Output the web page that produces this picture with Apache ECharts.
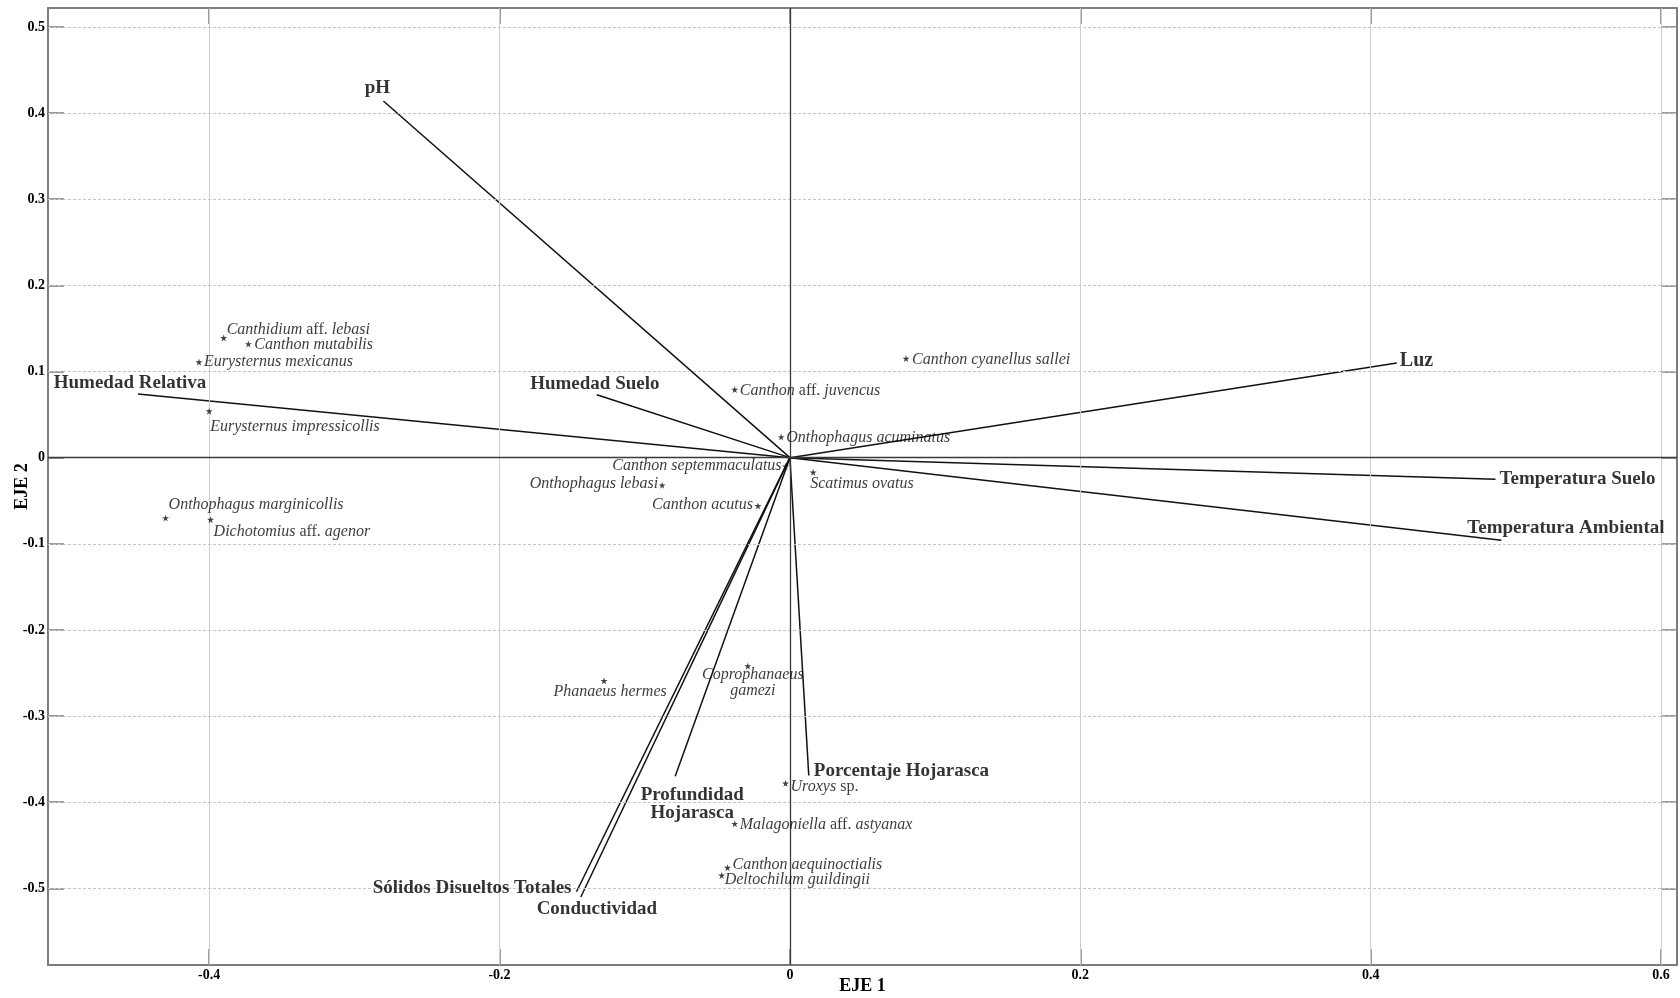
<!DOCTYPE html>
<html>
<head>
<meta charset="utf-8">
<script src="https://cdn.jsdelivr.net/npm/echarts@6/dist/echarts.min.js"></script>
<style>
html,body{margin:0;padding:0;background:#ffffff;}
#chart{width:1680px;height:998px;}
</style>
</head>
<body>
<div id="chart"></div>
<script>
// ---------------- data ----------------
const xTicks = [-0.4, -0.2, 0, 0.2, 0.4, 0.6];
const xTickLabels = ['-0.4', '-0.2', '0', '0.2', '0.4', '0.6'];
const yTicks = [-0.5, -0.4, -0.3, -0.2, -0.1, 0, 0.1, 0.2, 0.3, 0.4, 0.5];
const yTickLabels = ['-0.5', '-0.4', '-0.3', '-0.2', '-0.1', '0', '0.1', '0.2', '0.3', '0.4', '0.5'];

const variableNames = ['pH', 'Humedad Suelo', 'Humedad Relativa', 'Luz', 'Temperatura Suelo',
  'Temperatura Ambiental', 'Sólidos Disueltos Totales', 'Conductividad', 'Profundidad Hojarasca', 'Porcentaje Hojarasca'];
const variableX = [-0.280, -0.133, -0.449, 0.418, 0.486, 0.490, -0.147, -0.144, -0.079, 0.013];
const variableY = [0.414, 0.073, 0.074, 0.110, -0.025, -0.096, -0.504, -0.510, -0.370, -0.369];

const speciesNames = ['Canthidium aff. lebasi', 'Canthon mutabilis', 'Eurysternus mexicanus',
  'Eurysternus impressicollis', 'Onthophagus marginicollis', 'Dichotomius aff. agenor',
  'Canthon aff. juvencus', 'Onthophagus acuminatus', 'Canthon cyanellus sallei',
  'Canthon septemmaculatus', 'Onthophagus lebasi', 'Canthon acutus', 'Scatimus ovatus',
  'Phanaeus hermes', 'Coprophanaeus gamezi', 'Uroxys sp.', 'Malagoniella aff. astyanax',
  'Canthon aequinoctialis', 'Deltochilum guildingii'];
const speciesX = [-0.390, -0.373, -0.407, -0.400, -0.430, -0.399, -0.038, -0.006, 0.080,
  -0.003, -0.088, -0.022, 0.016, -0.128, -0.029, -0.003, -0.038, -0.043, -0.047];
const speciesY = [0.139, 0.132, 0.111, 0.054, -0.070, -0.072, 0.079, 0.024, 0.115,
  -0.010, -0.032, -0.056, -0.017, -0.259, -0.242, -0.378, -0.425, -0.476, -0.485];

// ---------------- label layout (pixel offsets, kept apart from data) ----------------
const speciesLayout = {
  'Canthidium aff. lebasi': {dx: 3, dy: -8, align: 'left'},
  'Canthon mutabilis': {dx: 6, dy: 1, align: 'left'},
  'Eurysternus mexicanus': {dx: 5, dy: 0, align: 'left'},
  'Eurysternus impressicollis': {dx: 1, dy: 16, align: 'left'},
  'Onthophagus marginicollis': {dx: 3, dy: -13, align: 'left'},
  'Dichotomius aff. agenor': {dx: 3, dy: 12, align: 'left'},
  'Canthon aff. juvencus': {dx: 5, dy: 1, align: 'left'},
  'Onthophagus acuminatus': {dx: 5, dy: 1, align: 'left'},
  'Canthon cyanellus sallei': {dx: 6, dy: 1, align: 'left'},
  'Canthon septemmaculatus': {dx: -4, dy: 0, align: 'right'},
  'Onthophagus lebasi': {dx: -4, dy: -1, align: 'right'},
  'Canthon acutus': {dx: -5, dy: -1, align: 'right'},
  'Scatimus ovatus': {dx: -3, dy: 12, align: 'left'},
  'Phanaeus hermes': {dx: 6, dy: 11, align: 'center'},
  'Coprophanaeus gamezi': {dx: 5, dy: 17, align: 'center', wrap: true},
  'Uroxys sp.': {dx: 5, dy: 4, align: 'left'},
  'Malagoniella aff. astyanax': {dx: 5, dy: 1, align: 'left'},
  'Canthon aequinoctialis': {dx: 5, dy: -3, align: 'left'},
  'Deltochilum guildingii': {dx: 3, dy: 4, align: 'left'}
};
const variableLayout = {
  'pH': {dx: -6, dy: -13, align: 'center', size: 19},
  'Humedad Suelo': {dx: -2, dy: -11, align: 'center', size: 19},
  'Humedad Relativa': {dx: -8, dy: -11, align: 'center', size: 19},
  'Luz': {dx: 3, dy: -2, align: 'left', size: 20},
  'Temperatura Suelo': {dx: 4, dy: 0, align: 'left', size: 19},
  'Temperatura Ambiental': {dx: -34, dy: -12, align: 'left', size: 19},
  'Sólidos Disueltos Totales': {dx: -5, dy: -4, align: 'right', size: 19},
  'Conductividad': {dx: 16, dy: 12, align: 'center', size: 19},
  'Profundidad Hojarasca': {dx: 17, dy: 28, align: 'center', size: 19, wrap: true},
  'Porcentaje Hojarasca': {dx: 5, dy: -4, align: 'left', size: 19}
};

const FONT = "'Liberation Serif','Times New Roman',serif";
const STAR = 'path://M50,0 L61,35 L98,35 L68,57 L79,91 L50,70 L21,91 L32,57 L2,35 L39,35 Z';
const TXT = '#0d0808';

function tickLabel(ticks, labels) {
  return function (v) {
    for (let i = 0; i < ticks.length; i++) {
      if (Math.abs(ticks[i] - v) < 1e-9) return labels[i];
    }
    return '';
  };
}

function speciesRich(name, wrap) {
  const words = name.split(' ');
  const toks = words.map(w => (w === 'aff.' || w === 'sp.') ? '{n|' + w + '}' : '{i|' + w + '}');
  if (wrap) return toks.join('\n');
  return toks.join(' ');
}

// ---------------- series ----------------
const axisGray = '#7d7d7d';

const gridLinesData = [];
xTicks.forEach(v => {
  if (v !== 0) gridLinesData.push({xAxis: v, lineStyle: {color: '#cdcdcd', width: 1, type: 'solid'}});
});
yTicks.forEach(v => {
  if (v !== 0) gridLinesData.push({yAxis: v, lineStyle: {color: '#c4c4c4', width: 1, type: [3, 2]}});
});
gridLinesData.push({xAxis: 0, lineStyle: {color: '#3a3a3a', width: 1.3, type: 'solid'}});
gridLinesData.push({yAxis: 0, lineStyle: {color: '#3a3a3a', width: 1.3, type: 'solid'}});

const series = [];
series.push({
  name: 'grid',
  type: 'line',
  data: [],
  z: 1,
  silent: true,
  markLine: {
    silent: true,
    symbol: ['none', 'none'],
    label: {show: false},
    animation: false,
    data: gridLinesData
  }
});

variableNames.forEach((nm, i) => {
  series.push({
    name: nm,
    type: 'line',
    data: [[0, 0], [variableX[i], variableY[i]]],
    showSymbol: false,
    symbol: 'none',
    lineStyle: {color: '#111111', width: 1.5},
    z: 3,
    silent: true,
    animation: false
  });
});

series.push({
  name: 'variableLabels',
  type: 'scatter',
  symbolSize: 0,
  z: 5,
  silent: true,
  animation: false,
  data: variableNames.map((nm, i) => {
    const L = variableLayout[nm];
    return {
      value: [variableX[i], variableY[i]],
      name: nm,
      label: {
        show: true,
        position: 'inside',
        align: L.align,
        verticalAlign: 'middle',
        offset: [L.dx, L.dy],
        formatter: L.wrap ? nm.split(' ').join('\n') : nm,
        fontFamily: FONT,
        fontWeight: 'bold',
        fontSize: L.size,
        lineHeight: 18,
        color: '#000000',
        textBorderWidth: 0
      }
    };
  })
});

series.push({
  name: 'species',
  type: 'scatter',
  symbol: STAR,
  symbolSize: 7,
  itemStyle: {color: '#111111'},
  z: 6,
  silent: true,
  animation: false,
  data: speciesNames.map((nm, i) => {
    const L = speciesLayout[nm];
    return {
      value: [speciesX[i], speciesY[i]],
      name: nm,
      label: {
        show: true,
        position: 'inside',
        align: L.align,
        verticalAlign: 'middle',
        offset: [L.dx, L.dy],
        formatter: speciesRich(nm, !!L.wrap),
        fontFamily: FONT,
        fontSize: 16,
        lineHeight: 16,
        color: TXT,
        textBorderWidth: 0,
        rich: {
          i: {fontFamily: FONT, fontSize: 16, fontStyle: 'italic', color: TXT, lineHeight: 16},
          n: {fontFamily: FONT, fontSize: 16, fontStyle: 'normal', color: TXT, lineHeight: 16}
        }
      }
    };
  })
});

const XMIN = -0.511, XMAX = 0.611, YMIN = -0.589, YMAX = 0.522;

const option = {
  backgroundColor: '#ffffff',
  animation: false,
  grid: {left: 48, right: 3, top: 8, bottom: 33, containLabel: false, outerBoundsMode: 'none'},
  xAxis: [{
    type: 'value', position: 'bottom', min: XMIN, max: XMAX,
    axisLine: {show: true, onZero: false, lineStyle: {color: axisGray, width: 2}},
    axisTick: {show: true, inside: true, length: 16, customValues: xTicks, lineStyle: {color: axisGray, width: 1.5}},
    axisLabel: {show: true, customValues: xTicks, formatter: tickLabel(xTicks, xTickLabels), margin: 3,
      fontFamily: FONT, fontWeight: 'bold', fontSize: 14, color: '#000'},
    splitLine: {show: false},
    name: 'EJE 1', nameLocation: 'middle', nameGap: 12, nameMoveOverlap: false,
    nameTextStyle: {fontFamily: FONT, fontWeight: 'bold', fontSize: 18, color: '#000'}
  }, {
    type: 'value', position: 'top', min: XMIN, max: XMAX,
    axisLine: {show: true, onZero: false, lineStyle: {color: axisGray, width: 2}},
    axisTick: {show: true, inside: true, length: 16, customValues: xTicks, lineStyle: {color: axisGray, width: 1.5}},
    axisLabel: {show: false},
    splitLine: {show: false}
  }],
  yAxis: [{
    type: 'value', position: 'left', min: YMIN, max: YMAX,
    axisLine: {show: true, onZero: false, lineStyle: {color: axisGray, width: 2}},
    axisTick: {show: true, inside: true, length: 16, customValues: yTicks, lineStyle: {color: axisGray, width: 1.5}},
    axisLabel: {show: true, customValues: yTicks, formatter: tickLabel(yTicks, yTickLabels), margin: 3,
      fontFamily: FONT, fontWeight: 'bold', fontSize: 14, color: '#000'},
    splitLine: {show: false},
    name: 'EJE 2', nameLocation: 'middle', nameGap: 17, nameRotate: 90, nameMoveOverlap: false,
    nameTextStyle: {fontFamily: FONT, fontWeight: 'bold', fontSize: 18, color: '#000'}
  }, {
    type: 'value', position: 'right', min: YMIN, max: YMAX,
    axisLine: {show: true, onZero: false, lineStyle: {color: axisGray, width: 2}},
    axisTick: {show: true, inside: true, length: 16, customValues: yTicks, lineStyle: {color: axisGray, width: 1.5}},
    axisLabel: {show: false},
    splitLine: {show: false}
  }],
  series: series
};

const chart = echarts.init(document.getElementById('chart'), null, {renderer: 'canvas'});
chart.setOption(option);
</script>
</body>
</html>
